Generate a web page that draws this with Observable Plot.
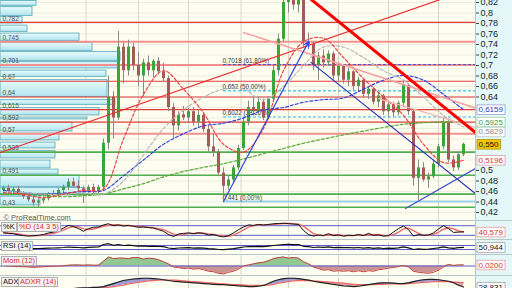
<!DOCTYPE html>
<html><head><meta charset="utf-8">
<script src="https://cdn.jsdelivr.net/npm/d3@7"></script>
<script src="https://cdn.jsdelivr.net/npm/@observablehq/plot@0.6"></script>
<style>
html,body{margin:0;padding:0;width:512px;height:288px;overflow:hidden;background:#fff;}
#root{position:relative;width:512px;height:288px;overflow:hidden;font-family:'Liberation Sans',Arial,sans-serif;}
.layer{position:absolute;left:0;}
.layer svg{display:block;overflow:visible;}
.bg{position:absolute;}
.tag{position:absolute;height:8px;line-height:8px;font-size:7.5px;padding:0 1px;background:#f2f2f2;border:1px solid #b0b0b0;white-space:nowrap;color:#111;}
</style></head>
<body><div id="root"></div>
<script>
// ---------------- DATA ----------------
const O = [.462,.466,.460,.464,.455,.450,.444,.438,.442,.446,.455,.452,.462,.468,.478,.470,.465,.458,.468,.460,
.468,.552,.640,.600,.735,.690,.735,.700,.680,.705,
.690,.708,.688,.675,.620,.585,.606,.600,.612,.592,
.605,.578,.545,.535,.495,.470,.482,.505,.542,.592,
.620,.612,.630,.600,.636,.690,.750,.820,.840,.815,
.835,.745,.740,.700,.718,.705,.722,.680,.698,.672,
.688,.660,.672,.645,.655,.630,.642,.612,.625,.610,
.628,.662,.612,.485,.505,.482,.488,.512,.545,.590,
.520,.505,.530];
const H = [.470,.472,.468,.470,.460,.456,.452,.446,.450,.458,.462,.466,.472,.484,.486,.480,.470,.472,.474,.472,
.560,.680,.650,.765,.745,.748,.742,.725,.712,.718,
.712,.715,.704,.680,.628,.612,.622,.618,.620,.614,
.610,.585,.570,.540,.505,.490,.510,.548,.600,.632,
.640,.640,.636,.640,.700,.760,.830,.863,.860,.850,
.840,.762,.745,.725,.730,.728,.726,.705,.702,.695,
.690,.678,.675,.660,.658,.648,.645,.632,.630,.632,
.672,.665,.615,.520,.515,.495,.520,.550,.600,.595,
.528,.535,.552];
const L = [.455,.458,.455,.452,.445,.440,.432,.430,.436,.442,.448,.450,.456,.462,.466,.460,.437,.452,.455,.456,
.462,.540,.560,.595,.665,.680,.690,.660,.640,.680,
.676,.682,.668,.612,.560,.575,.595,.590,.585,.582,
.572,.535,.525,.488,.441,.462,.475,.500,.538,.585,
.606,.604,.595,.596,.630,.680,.745,.800,.805,.800,
.735,.730,.690,.672,.695,.698,.672,.668,.665,.660,
.652,.650,.638,.635,.625,.620,.605,.600,.602,.604,
.620,.605,.470,.443,.478,.466,.484,.505,.540,.515,
.498,.500,.526];
const C = [.466,.460,.464,.455,.450,.444,.438,.442,.446,.455,.452,.462,.468,.478,.470,.465,.458,.468,.460,.468,
.552,.640,.600,.735,.690,.735,.700,.680,.705,.690,
.708,.688,.675,.620,.585,.606,.600,.612,.592,.605,
.578,.545,.535,.495,.470,.482,.505,.542,.592,.620,
.612,.630,.600,.636,.690,.750,.820,.840,.815,.835,
.745,.740,.700,.718,.705,.722,.680,.698,.672,.688,
.660,.672,.645,.655,.630,.642,.612,.625,.610,.628,
.662,.612,.485,.505,.482,.488,.512,.545,.590,.520,
.505,.530,.550];

// moving averages sampled every 4 sessions
const maIdx   = [0,4,8,12,16,20,24,28,32,36,40,44,48,52,56,60,64,68,72,76,80,84,88,92];
const maRed   = [.458,.455,.448,.455,.462,.465,.56,.645,.69,.655,.61,.55,.535,.58,.69,.745,.752,.715,.675,.64,.605,.55,.515,.5196];
const maGray  = [.46,.458,.455,.455,.457,.455,.48,.53,.58,.615,.64,.655,.655,.635,.66,.70,.735,.735,.715,.69,.672,.64,.605,.5829];
const maBlue  = [.462,.458,.455,.457,.46,.462,.49,.52,.55,.57,.585,.59,.60,.615,.62,.63,.635,.638,.655,.672,.681,.672,.645,.6159];
const maGreen = [.455,.455,.452,.45,.452,.455,.465,.475,.488,.498,.506,.513,.522,.532,.542,.552,.56,.568,.575,.582,.588,.591,.5925,.5925];

// horizontal support / resistance levels
const resistance     = [0.782, 0.67, 0.64, 0.616, 0.592];
const resistanceSoft = [0.745, 0.701, 0.57];
const support        = [0.535, 0.491, 0.455, 0.43];

// volume-by-price profile (price band low/high, relative volume)
const volLo = [0.8124,0.7933,0.7790,0.7628,0.7457,0.7267,0.7076,0.6933,0.6771,0.6390,0.6238,0.6038,0.5962,0.5733,0.5562,0.5410,0.5219,0.5029,0.4914,0.4676,0.4514,0.4324];
const volHi = [0.8240,0.8124,0.7933,0.7771,0.7619,0.7448,0.7267,0.7076,0.6914,0.6733,0.6352,0.6200,0.6019,0.5924,0.5714,0.5543,0.5381,0.5200,0.5029,0.4914,0.4676,0.4514];
const volW  = [36,32,22,27,79,92,120,118,106,107,115,99,87,72,59,55,55,50,58,79,85,40];
const profileLevels = [0.782,0.745,0.701,0.67,0.64,0.616,0.592,0.57,0.535,0.491,0.43];

// Fibonacci retracement
const fibLevels = [0.7018, 0.652, 0.6022, 0.441];
const fibRatios = [61.8, 50, 38.2, 0];
const fibFrom = 44;

// drawn trend lines [session index, price]
const blueUp    = [[44, 0.441], [61, 0.745]];
const blueDown  = [[61.5, 0.706], [94.4, 0.456]];
const blueLow   = [[80.4, 0.4276], [94.4, 0.5038]];
const redThick  = [[61, 0.8300], [94.4, 0.5724]];
const redRise   = [[-0.6, 0.5343], [94.4, 0.849]];
const pinkFall  = [[48, 0.7629], [94.4, 0.619]];
const pinkFall2 = [[75, 0.637], [94.4, 0.582]];

const priceTicks = [0.42,0.44,0.46,0.48,0.5,0.52,0.54,0.56,0.58,0.6,0.62,0.64,0.66,0.68,0.7,0.72,0.74,0.76,0.78,0.8,0.82];
const monthStarts = [16.5, 27, 37, 47.5, 57, 67, 77, 87];

// indicators
const K = [35,32,30,22,18,15,18,20,25,35,40,50,65,82,75,62,45,62,70,72,
85,92,80,85,78,82,76,70,72,68,
65,55,45,25,12,28,32,35,30,36,
32,22,25,15,10,18,35,55,72,85,
82,88,84,88,92,94,95,93,90,88,
50,25,15,22,18,30,18,22,15,20,
18,25,18,32,20,22,15,18,40,62,
78,55,15,25,20,22,35,60,80,62,
38,40,42];
const D = [38,34,32,28,23,18,17,18,21,27,33,42,52,66,74,73,60,56,59,68,
76,83,86,84,81,81,79,75,73,70,
68,62,55,42,27,22,24,32,32,34,
33,29,26,21,17,14,21,36,54,71,
80,85,85,87,88,91,94,94,92,90,
77,54,30,21,18,23,22,23,18,19,
18,21,20,25,23,25,19,18,24,40,
60,65,49,32,20,22,26,39,58,67,
60,47,40.579];
const RSI = [48,46,45,43,42,40,38,40,42,44,45,47,50,55,52,50,47,52,54,55,
80,88,72,80,70,74,68,64,66,62,
63,60,58,45,38,45,46,48,44,47,
44,38,36,30,28,33,38,46,55,60,
58,62,58,64,70,75,80,82,78,80,
62,58,50,55,52,56,48,52,48,50,
46,50,44,48,42,46,40,44,42,46,
56,46,30,36,32,34,40,46,56,46,
42,48,50.944];
const MOM = [0.005,0,-0.005,-0.01,-0.015,-0.02,-0.025,-0.02,-0.015,-0.01,-0.005,0,0.005,0.015,0.02,0.02,0.015,0.02,0.015,0.015,
0.09,0.17,0.14,0.15,0.15,0.14,0.16,0.16,0.13,0.15,
0.14,0.12,0.08,0.04,-0.02,-0.03,-0.05,-0.04,-0.06,-0.05,
-0.07,-0.10,-0.11,-0.14,-0.15,-0.12,-0.10,-0.06,0.0,0.02,
0.04,0.06,0.07,0.10,0.14,0.16,0.17,0.15,0.16,0.15,
0.08,0.04,-0.02,-0.05,-0.08,-0.07,-0.10,-0.09,-0.10,-0.09,
-0.11,-0.09,-0.11,-0.09,-0.10,-0.07,-0.06,-0.04,-0.03,-0.01,
0.01,-0.02,-0.10,-0.12,-0.13,-0.14,-0.12,-0.08,-0.02,0.03,
0.01,0.02,0.02];
const ADX = [20,20,20,20,21,21,22,22,22,22,22,22,23,24,25,26,27,27,28,28,
30,34,38,42,46,48,50,51,52,52,
51,50,48,46,44,43,42,41,40,39,
38,37,36,35,35,34,33,32,31,30,
30,31,33,38,44,48,51,52,52,51,
49,47,44,42,40,38,36,34,32,31,
30,31,33,35,37,39,40,40,39,38,
38,40,43,46,48,49,49,48,46,44,
40,34,28.831];
const ADXR = [22,22,21,21,21,21,21,22,22,22,22,22,22,23,23,24,24,25,25,26,
27,28,30,32,34,37,39,41,43,45,
46,47,47,47,47,46,45,44,43,42,
41,40,39,38,37,36,35,35,34,33,
33,33,33,34,36,39,41,43,45,46,
46,46,45,44,43,42,41,40,39,37,
36,35,35,35,35,36,36,37,37,37,
37,38,39,40,41,42,43,43,43,43,
42,41,40];

// ---------------- HELPERS ----------------
const root = document.getElementById("root");
const NS = "http://www.w3.org/2000/svg";
const last = a => a[a.length - 1];
const comma = (v, d) => (d == null ? String(+v.toFixed(4)) : v.toFixed(d)).replace(".", ",");
const xDom = [-0.6, 94.4];
const FONT = "'Liberation Sans', Arial, sans-serif";
const base = {width: 512, marginLeft: 0, marginRight: 37,
  style: {background: "transparent", overflow: "visible", fontFamily: FONT, fontSize: "9px", color: "#222"}};
const xOpt = {domain: xDom, axis: null};
const yMain = [0.4048, 0.8238];

function bg(l, t, w, h, c) {
  const d = document.createElement("div"); d.className = "bg";
  Object.assign(d.style, {left: l + "px", top: t + "px", width: w + "px", height: h + "px", background: c});
  root.appendChild(d);
}
function mount(svg, top) {
  const d = document.createElement("div"); d.className = "layer"; d.style.top = top + "px";
  d.appendChild(svg); root.appendChild(d); return svg;
}
function tag(text, left, top, color) {
  const s = document.createElement("div"); s.className = "tag"; s.textContent = text;
  s.style.left = left + "px"; s.style.top = top + "px"; if (color) s.style.color = color;
  root.appendChild(s);
}
function boxes(svg, specs) {
  svg.querySelectorAll("text").forEach(t => {
    const s = specs.get(t.textContent);
    if (!s) return;
    const b = t.getBBox();
    const r = document.createElementNS(NS, "rect");
    r.setAttribute("x", b.x - 1.5); r.setAttribute("y", b.y - 0.3);
    r.setAttribute("width", b.width + 3); r.setAttribute("height", b.height + 0.6);
    r.setAttribute("fill", s.box); r.setAttribute("stroke", s.border); r.setAttribute("stroke-width", 0.7);
    if (t.getAttribute("transform")) r.setAttribute("transform", t.getAttribute("transform"));
    t.parentNode.insertBefore(r, t);
  });
}

// ---------------- BACKGROUNDS ----------------
const CREAM = "#fefef0", CYAN = "#e4f8fa", SEP = "#b9c6c9";
bg(0, 0, 475, 220, CREAM);
bg(475, 0, 37, 288, CYAN);
bg(0, 221, 475, 18, CREAM);
bg(0, 240, 475, 14, CREAM);
bg(0, 255, 475, 20, CREAM);
bg(0, 276, 475, 12, CREAM);
[220, 239, 254, 275].forEach(y => bg(0, y, 512, 1, SEP));
bg(475, 0, 1, 288, SEP);

// ---------------- MAIN PANEL ----------------
const candles = O.map((o, i) => ({i, o, h: H[i], l: L[i], c: C[i]}));
const ma = (vals) => maIdx.map((i, k) => ({i, v: vals[k]}));

// grid layer
mount(Plot.plot({...base, height: 220, marginTop: 0, marginBottom: 0, x: xOpt, y: {domain: yMain, axis: null},
  marks: [
    Plot.ruleY(priceTicks, {stroke: "#ecece0"}),
    Plot.ruleX(monthStarts, {stroke: "#d6d6cc"})
  ]}), 0);

// volume profile layer (bars with a light top-to-bottom cyan gradient)
const vol = volLo.map((lo, k) => ({lo, hi: volHi[k], w: volW[k]}));
const volSvg = mount(Plot.plot({...base, height: 220, marginTop: 0, marginBottom: 0,
  x: {domain: [0, 475], axis: null}, y: {domain: yMain, axis: null},
  marks: [
    Plot.rect(vol, {x1: () => 0, x2: "w", y1: "lo", y2: "hi", fill: "url(#volgrad)", stroke: "#6fb6c4", strokeWidth: 1, insetTop: 0.6, insetBottom: 0.6}),
    Plot.text(profileLevels, {frameAnchor: "left", y: d => d, text: d => comma(d), textAnchor: "start", dx: 2, dy: -4, fontSize: 6.5, fill: "#555"})
  ]}), 0);
{
  const defs = document.createElementNS(NS, "defs");
  defs.innerHTML = '<linearGradient id="volgrad" x1="0" y1="0" x2="0" y2="1">' +
    '<stop offset="0" stop-color="#e8fbfd"/><stop offset="1" stop-color="#b2e5ef"/></linearGradient>';
  volSvg.insertBefore(defs, volSvg.firstChild);
}

// price layer
const fibStyle = [
  {stroke: "#4455cc", dash: "3,2", w: 1},
  {stroke: "#5cc8ec", dash: "3,2", w: 1.4},
  {stroke: "#5cc8ec", dash: "3,2", w: 1.4},
  {stroke: "#9ad2ea", dash: null, w: 2}
];
const seg = (pts, o) => Plot.line(pts, {x: d => d[0], y: d => d[1], clip: true, ...o});
const valueLabels = [
  {v: last(maBlue), d: 4, fill: "#2a35b8", box: "#ffffff", border: "#8890d0"},
  {v: last(maGreen), d: 4, fill: "#3c9a3c", box: "#ffffff", border: "#90c890"},
  {v: last(maGray), d: 4, fill: "#8a8a8a", box: "#ffffff", border: "#bbbbbb"},
  {v: last(C), d: 3, fill: "#111111", box: "#f2c600", border: "#a88a00"},
  {v: last(maRed), d: 4, fill: "#e03030", box: "#ffffff", border: "#e09090"}
];
// avoid overlap: keep at least ~10px between boxes
let prev = Infinity;
valueLabels.forEach(l => { l.y = Math.min(l.v, prev - 0.019); prev = l.y; l.text = comma(l.v, l.d); });
// axis ticks hidden where a value box sits on top of them
const shownTicks = priceTicks.filter(t => valueLabels.every(l => Math.abs(l.y - t) > 0.014));

const mainSvg = mount(Plot.plot({...base, height: 220, marginTop: 0, marginBottom: 0, x: xOpt,
  y: {domain: yMain, axis: null}, color: {type: "identity"},
  marks: [
    Plot.ruleY(resistance, {stroke: "#e23a3a", strokeWidth: 1.2}),
    Plot.ruleY(resistanceSoft, {stroke: "#f29090", strokeWidth: 2}),
    Plot.ruleY(support, {stroke: "#4fae4f", strokeWidth: 1.6}),
    ...fibLevels.map((f, k) => Plot.ruleY([f], {x1: fibFrom, x2: xDom[1], stroke: fibStyle[k].stroke,
        strokeDasharray: fibStyle[k].dash, strokeWidth: fibStyle[k].w})),
    Plot.text(fibLevels, {x: fibFrom, y: d => d, text: (d, k) => `${comma(d)} (${fibRatios[k].toFixed(2).replace(".", ",")}%)`,
        textAnchor: "start", dx: -1, dy: -4, fontSize: 6.3, fill: "#333"}),
    Plot.ruleX(candles, {x: "i", y1: "l", y2: "h", stroke: "#8a8a8a", strokeWidth: 1, clip: true}),
    Plot.ruleX(candles, {x: "i", y1: "o", y2: d => (Math.abs(d.c - d.o) < 0.002 ? d.o + 0.002 : d.c),
        stroke: d => (d.c >= d.o ? "#3aa63a" : "#a65a58"), strokeWidth: 3, clip: true}),
    Plot.line(ma(maGreen), {x: "i", y: "v", stroke: "#55aa33", strokeWidth: 1.2, strokeDasharray: "3,2", curve: "catmull-rom", clip: true}),
    Plot.line(ma(maBlue), {x: "i", y: "v", stroke: "#3344dd", strokeWidth: 1.2, strokeDasharray: "3,2", curve: "catmull-rom", clip: true}),
    Plot.line(ma(maGray), {x: "i", y: "v", stroke: "#b8b8b8", strokeWidth: 1.2, strokeDasharray: "3,2", curve: "catmull-rom", clip: true}),
    Plot.line(ma(maRed), {x: "i", y: "v", stroke: "#ee4444", strokeWidth: 1.2, strokeDasharray: "3,2", curve: "catmull-rom", clip: true}),
    seg(redRise, {stroke: "#ec3030", strokeWidth: 1.2}),
    seg(pinkFall, {stroke: "#f4a4a4", strokeWidth: 1.5}),
    seg(pinkFall2, {stroke: "#f4b4b4", strokeWidth: 1.3}),
    seg(blueDown, {stroke: "#2a34b0", strokeWidth: 1.2}),
    seg(blueLow, {stroke: "#4050d0", strokeWidth: 1.2}),
    Plot.arrow([blueUp], {x1: d => d[0][0], y1: d => d[0][1], x2: d => d[1][0], y2: d => d[1][1],
        stroke: "#3344dd", strokeWidth: 1.2, headLength: 6}),
    seg(redThick, {stroke: "#ff0000", strokeWidth: 3}),
    Plot.axisY({anchor: "right", ticks: shownTicks, tickFormat: d => comma(d), tickSize: 3, tickPadding: 2, fontSize: 9, stroke: "#444", label: null}),
    Plot.text(valueLabels, {frameAnchor: "right", y: "y", text: "text", fill: "fill", textAnchor: "start", dx: 3, fontSize: 8}),
    Plot.text(["© ProRealTime.com"], {frameAnchor: "bottom-left", dx: 3, dy: -1, fontSize: 7.5, fill: "#555", lineAnchor: "bottom"})
  ]}), 0);
boxes(mainSvg, new Map(valueLabels.map(l => [l.text, l])));

// ---------------- INDICATOR PANELS ----------------
const idx = (d, i) => i;
const grid = Plot.ruleX(monthStarts, {stroke: "#d6d6cc"});

// Stochastic
const stoLab = {text: comma(last(D), 3), box: "#fff", border: "#e09090"};
const sto = mount(Plot.plot({...base, height: 18, marginTop: 1, marginBottom: 1, x: xOpt, y: {domain: [0, 100], axis: null},
  marks: [grid,
    Plot.ruleY([80, 20], {stroke: "#5a5ad0", strokeWidth: 1}),
    Plot.line(D, {x: idx, y: d => d, stroke: "#ec6a6a", strokeWidth: 1.4}),
    Plot.line(K, {x: idx, y: d => d, stroke: "#111", strokeWidth: 1}),
    Plot.text([last(D)], {frameAnchor: "right", y: d => d, text: () => stoLab.text, fill: "#e03030", textAnchor: "start", dx: 3, fontSize: 8})
  ]}), 221);
boxes(sto, new Map([[stoLab.text, stoLab]]));

// RSI
const rsiLab = {text: comma(last(RSI), 3), box: "#fff", border: "#999"};
const rsi = mount(Plot.plot({...base, height: 14, marginTop: 2, marginBottom: 2, x: xOpt, y: {domain: [0, 100], axis: null},
  marks: [grid,
    Plot.ruleY([70, 30], {stroke: "#5a5ad0", strokeWidth: 1}),
    Plot.line(RSI, {x: idx, y: d => d, stroke: "#111", strokeWidth: 1.2}),
    Plot.text([last(RSI)], {frameAnchor: "right", y: d => d, text: () => rsiLab.text, fill: "#111", textAnchor: "start", dx: 3, fontSize: 8})
  ]}), 240);
boxes(rsi, new Map([[rsiLab.text, rsiLab]]));

// Momentum
const momLab = {text: comma(last(MOM), 4), box: "#fff", border: "#e09090"};
const mom = mount(Plot.plot({...base, height: 21, marginTop: 0, marginBottom: 0, x: xOpt, y: {domain: [-0.2, 0.2], axis: null},
  marks: [grid,
    Plot.areaY(MOM, {x: idx, y1: () => 0, y2: d => Math.max(d, 0), fill: "#92c892"}),
    Plot.areaY(MOM, {x: idx, y1: () => 0, y2: d => Math.min(d, 0), fill: "#c99493"}),
    Plot.ruleY([0], {stroke: "#5a5ad0", strokeWidth: 1}),
    Plot.line(MOM, {x: idx, y: d => d, stroke: "#c84040", strokeWidth: 1}),
    Plot.text([last(MOM)], {frameAnchor: "right", y: d => d, text: () => momLab.text, fill: "#e03030", textAnchor: "start", dx: 3, fontSize: 8})
  ]}), 255);
boxes(mom, new Map([[momLab.text, momLab]]));

// ADX / ADXR
const adx = ADX.map((a, i) => ({i, a, r: ADXR[i]}));
const adxLab = {text: comma(last(ADX), 3), box: "#fff", border: "#999"};
const adxSvg = mount(Plot.plot({...base, height: 16, marginTop: 0.6, marginBottom: 4, x: xOpt, y: {domain: [25, 55], axis: null},
  marks: [grid,
    Plot.areaY(adx, {x: "i", y1: "r", y2: d => Math.max(d.a, d.r), fill: "#9c9cd6"}),
    Plot.areaY(adx, {x: "i", y1: d => Math.min(d.a, d.r), y2: "r", fill: "#e8a8a8"}),
    Plot.line(adx, {x: "i", y: "r", stroke: "#ec6a6a", strokeWidth: 1.3}),
    Plot.line(adx, {x: "i", y: "a", stroke: "#222", strokeWidth: 1.2}),
    Plot.text([last(ADX)], {frameAnchor: "right", y: d => d, text: () => adxLab.text, fill: "#111", textAnchor: "start", dx: 3, fontSize: 8})
  ]}), 276);
boxes(adxSvg, new Map([[adxLab.text, adxLab]]));

// panel titles
tag("%K", 1, 221.5); tag("%D (14 3 5)", 17, 221.5, "#e03030");
tag("RSI (14)", 1, 240.5);
tag("Mom (12)", 1, 255.5, "#e03030");
tag("ADX", 1, 277); tag("ADXR (14)", 18, 277, "#e03030");
</script>
</body></html>
